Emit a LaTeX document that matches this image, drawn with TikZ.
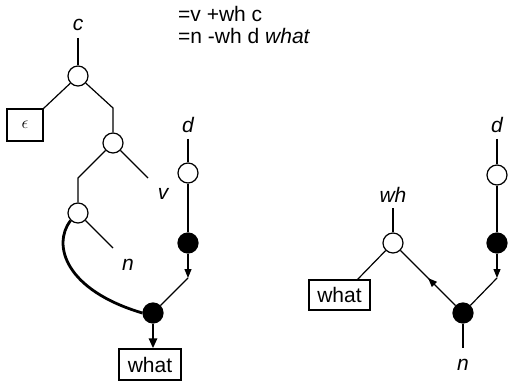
\documentclass[tikz,border=0pt]{standalone}
\usepackage{fontspec}
\setmainfont{Liberation Sans}
\usetikzlibrary{arrows.meta,decorations.markings}
\begin{document}
\begin{tikzpicture}[x=1pt,y=-1pt,
  every node/.style={font=\fontsize{21}{24}\selectfont},
  opennode/.style={circle,draw,fill=white,minimum size=20pt,inner sep=0pt,line width=1.2pt},
  fullnode/.style={circle,draw,fill=black,minimum size=20pt,inner sep=0pt,line width=1.2pt},
  lab/.style={font=\fontsize{21}{24}\selectfont\itshape,inner sep=0pt,anchor=base},
  boxnode/.style={draw,line width=1.2pt,inner sep=0pt},
  edge/.style={line width=1.2pt},
  heavy/.style={line width=2.8pt},
  tip/.style={-{Triangle[length=9pt,width=7pt]}}
]
\useasboundingbox (0,0) rectangle (511,382);

% header text
\node[anchor=base west,inner sep=0pt] (t1) at (178,22) {=v +wh c};
\node[anchor=base west,inner sep=0pt] (t2) at (178,44) {=n -wh d \textit{what}};

% ---------- left tree ----------
\node[lab] (lc) at (78,31) {c};
\coordinate (lcb) at (78,38);
\node[opennode] (n1) at (78,76) {};
\node[boxnode,minimum width=36pt,minimum height=32pt] (eps) at (25,125)
  {\raisebox{-3pt}{\fontsize{16}{17}\selectfont$\epsilon$}};
\coordinate (j1) at (113,108);
\node[opennode] (n2) at (113,143) {};
\coordinate (vend) at (148,178);
\node[lab] (lv) at (163,200) {v};
\coordinate (j2) at (78,178);
\node[opennode] (n3) at (78,213) {};
\coordinate (nend) at (113,248);
\node[lab] (ln) at (128,270) {n};

\node[lab] (ld) at (188,133) {d};
\coordinate (ldb) at (188,139);
\node[opennode] (n4) at (188,173) {};
\node[fullnode] (f1) at (188,243) {};
\coordinate (j3) at (188,278);
\node[fullnode] (f2) at (153,313) {};
\node[boxnode,minimum width=62pt,minimum height=31pt] (w1) at (150,364.5) {what};

\draw[edge] (lcb) -- (n1);
\draw[edge] (n1) -- (eps.north east);
\draw[edge] (n1) -- (j1) -- (n2);
\draw[edge] (n2) -- (vend);
\draw[edge] (n2) -- (j2) -- (n3);
\draw[edge] (n3) -- (nend);
\draw[heavy] (n3.225) .. controls (52,245) and (65,290) .. (f2.west);
\draw[edge] (ldb) -- (n4);
\draw[edge] (n4) -- (f1);
\draw[edge,tip] (f1) -- (j3);
\draw[edge] (j3) -- (f2);
\draw[heavy,-{Triangle[length=10pt,width=8pt]}] (f2) -- (f2 |- w1.north);

% ---------- right tree ----------
\node[lab] (rd) at (497,133) {d};
\coordinate (rdb) at (497,139);
\node[opennode] (n5) at (497,175) {};
\node[fullnode] (f3) at (497,243) {};
\coordinate (j4) at (497,278);
\node[fullnode] (f4) at (463,313) {};
\coordinate (rnend) at (463,348);
\node[lab] (rn) at (463,370) {n};
\node[opennode] (n6) at (393,243) {};
\node[lab] (lwh) at (393,202) {wh};
\coordinate (whb) at (393,208);
\node[boxnode,minimum width=61pt,minimum height=30pt] (w2) at (339.5,295) {what};
\coordinate (w2c) at (357,280);

\draw[edge] (rdb) -- (n5);
\draw[edge] (n5) -- (f3);
\draw[edge,tip] (f3) -- (j4);
\draw[edge] (j4) -- (f4);
\draw[edge] (f4) -- (rnend);
\draw[edge,postaction={decorate},decoration={markings,
   mark=at position 0.5 with {\arrow{Triangle[length=9pt,width=7pt]}}}] (f4) -- (n6);
\draw[edge] (whb) -- (n6);
\draw[edge] (n6) -- (w2c);
\end{tikzpicture}
\end{document}
